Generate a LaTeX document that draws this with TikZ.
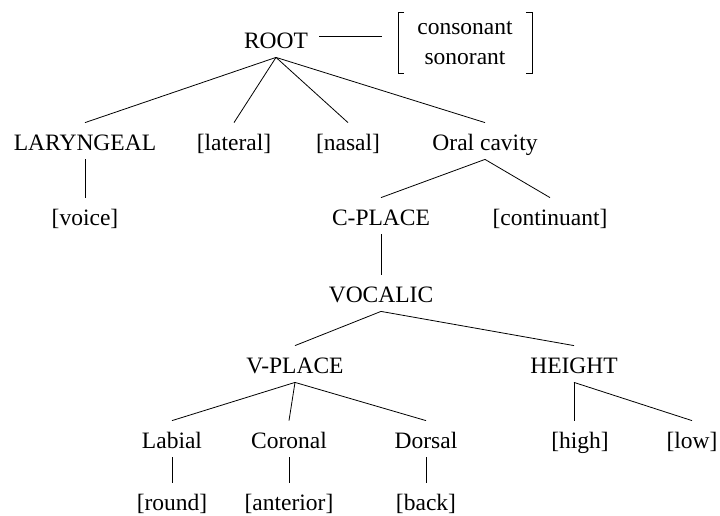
\documentclass[tikz,border=0pt]{standalone}
\usepackage{fontspec}
\setmainfont{Liberation Serif}
\usetikzlibrary{positioning}

\begin{document}
\begin{tikzpicture}[x=1pt,y=-1pt,line width=0.8pt,
    feat/.style={anchor=base,inner sep=0pt,text height=27pt,text depth=9pt,
        font=\fontsize{23.5}{28}\selectfont},
    bundle/.style={inner sep=0pt,minimum width=133pt,minimum height=60pt,align=center,
        font=\fontsize{23.5}{30}\selectfont}]

    \useasboundingbox (0,0) rectangle (720,515);

    % root and its bundle
    \node [feat] (root) at (276,48) {ROOT};
    \node [bundle] (bund) at (465,43) {consonant\\sonorant};
    \draw ([xshift=6pt]bund.north west) -- (bund.north west) -- (bund.south west) -- ++(6pt,0);
    \draw ([xshift=-6pt]bund.north east) -- (bund.north east) -- (bund.south east) -- ++(-6pt,0);
    \draw [shorten <=11pt,shorten >=16pt] ([yshift=3pt]root.east) -- ([yshift=3pt]root.east -| bund.west);

    % second tier
    \node [feat] (lar) at (85,150) {LARYNGEAL};
    \node [feat] (lat) at (234,150) {[lateral]};
    \node [feat] (nas) at (348,150) {[nasal]};
    \node [feat] (oral) at (485,150) {Oral cavity};
    \foreach \n in {lar,lat,nas,oral}
        \draw (root.south) -- (\n.north);

    % laryngeal
    \node [feat] (voice) at (85,225) {[voice]};
    \draw (lar) -- (voice);

    % oral cavity
    \node [feat] (cpl) at (381,225) {C-PLACE};
    \node [feat] (cont) at (550,225) {[continuant]};
    \draw (oral.south) -- (cpl.north);
    \draw (oral.south) -- (cont.north);

    \node [feat] (voc) at (381,302) {VOCALIC};
    \draw (cpl) -- (voc);

    \node [feat] (vpl) at (295,373) {V-PLACE};
    \node [feat] (hgt) at (574,373) {HEIGHT};
    \draw (voc.south) -- (vpl.north);
    \draw (voc.south) -- (hgt.north);

    % places
    \node [feat] (lab) at (172,448) {Labial};
    \node [feat] (cor) at (289,448) {Coronal};
    \node [feat] (dor) at (426,448) {Dorsal};
    \foreach \n in {lab,cor,dor}
        \draw (vpl.south) -- (\n.north);

    \node [feat] (rnd) at (172,510) {[round]};
    \node [feat] (ant) at (289,510) {[anterior]};
    \node [feat] (bck) at (426,510) {[back]};
    \draw (lab) -- (rnd);
    \draw (cor) -- (ant);
    \draw (dor) -- (bck);

    % height
    \node [feat] (hi) at (580,448) {[high]};
    \node [feat] (lo) at (692,448) {[low]};
    \draw (hgt.south) -- (hi.north -| hgt.south);
    \draw (hgt.south) -- (lo.north);

\end{tikzpicture}
\end{document}
